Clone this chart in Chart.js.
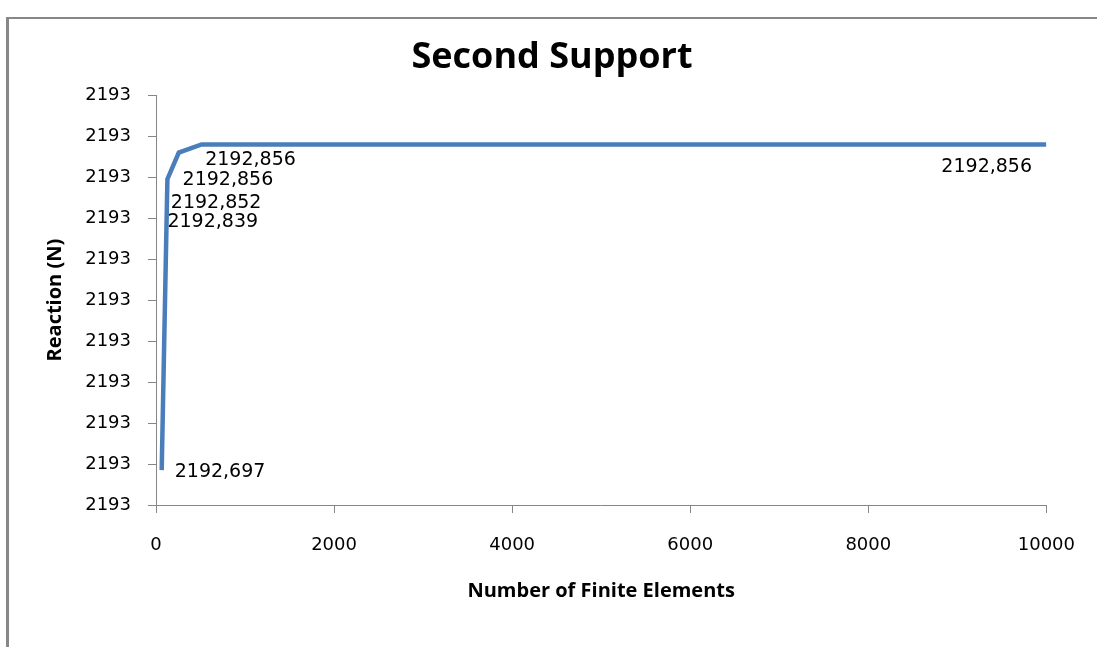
<!DOCTYPE html>
<html>
<head>
<meta charset="utf-8">
<script src="https://cdn.jsdelivr.net/npm/chart.js@4.4.0/dist/chart.umd.min.js"></script>
<style>
    body { margin: 0; background: #ffffff; overflow: hidden; }
    #wrap { position: relative; width: 1097px; height: 647px; }
    #frame {
        position: absolute; left: 6px; top: 17px; width: 1200px; height: 700px;
        border-left: 3px solid #878787; border-top: 2px solid #878787;
    }
    #chart { position: absolute; left: 0; top: 0; }
</style>
</head>
<body>
<div id="wrap">
    <div id="frame"></div>
    <canvas id="chart" width="1097" height="647"></canvas>
</div>
<script>
/* Data */
const elements = [64, 128, 256, 512, 1024, 10000]
const reactions = [2192.697, 2192.839, 2192.852, 2192.856, 2192.856, 2192.856]

/* Axis ranges */
const yMin = 2192.68
const yMax = 2192.88
const yStep = 0.02
const xMin = 0
const xMax = 10000
const xStep = 2000

/* Where each value label sits, relative to its point (dragged by hand in the original) */
const labelOffsets = [[13, 2], [0, 43], [-8, 50], [-19, 36], [-42, 16], [-105, 23]]

const points = elements.map((n, i) => ({ x: n, y: reactions[i] }))

/* Value labels next to the points */
const valueLabels = {
    id: 'valueLabels',
    afterDatasetsDraw(chart) {
        const ctx = chart.ctx
        const meta = chart.getDatasetMeta(0)
        ctx.save()
        ctx.font = '19px "DejaVu Sans"'
        ctx.fillStyle = '#000000'
        ctx.textAlign = 'left'
        ctx.textBaseline = 'middle'
        meta.data.forEach((pt, i) => {
            const text = reactions[i].toFixed(3).replace('.', ',')
            ctx.fillText(text, pt.x + labelOffsets[i][0], pt.y + labelOffsets[i][1])
        })
        ctx.restore()
    }
}

const axisColor = '#868686'

const chart = new Chart(document.getElementById('chart'), {
    type: 'line',
    data: {
        datasets: [{
            data: points,
            borderColor: '#4a7ebb',
            borderWidth: 4.5,
            pointRadius: 0,
            tension: 0,
            fill: false
        }]
    },
    options: {
        responsive: false,
        animation: false,
        layout: { padding: { left: 57, right: 50, top: 0, bottom: 0 } },
        plugins: {
            legend: { display: false },
            tooltip: { enabled: false },
            title: {
                display: true,
                text: 'Second Support',
                color: '#000000',
                font: { family: '"Open Sans"', size: 36, weight: 'bold' },
                padding: { top: 36, bottom: 16 }
            }
        },
        scales: {
            x: {
                type: 'linear',
                min: xMin,
                max: xMax,
                afterFit: (scale) => { scale.height = 142 },
                ticks: {
                    stepSize: xStep,
                    color: '#000000',
                    font: { family: '"DejaVu Sans"', size: 18 },
                    padding: 22,
                    maxRotation: 0,
                    callback: (value) => value.toString()
                },
                grid: { display: true, drawOnChartArea: false, drawTicks: true, tickLength: 8, color: axisColor },
                border: { display: true, color: axisColor, width: 1 },
                title: {
                    display: true,
                    text: 'Number of Finite Elements',
                    color: '#000000',
                    font: { family: '"Open Sans"', size: 20, weight: 'bold' },
                    padding: { top: 0, bottom: 44 }
                }
            },
            y: {
                min: yMin,
                max: yMax,
                afterFit: (scale) => { scale.width = 99 },
                ticks: {
                    stepSize: yStep,
                    color: '#000000',
                    font: { family: '"DejaVu Sans"', size: 18 },
                    padding: 17,
                    callback: (value) => Math.round(value).toString()
                },
                grid: { display: true, drawOnChartArea: false, drawTicks: true, tickLength: 8, color: axisColor },
                border: { display: true, color: axisColor, width: 1 },
                title: {
                    display: true,
                    text: 'Reaction (N)',
                    color: '#000000',
                    font: { family: '"Open Sans"', size: 20, weight: 'bold' },
                    padding: { top: -14, bottom: 0 }
                }
            }
        }
    },
    plugins: [valueLabels]
})
console.log(JSON.stringify(chart.chartArea))
</script>
</body>
</html>
